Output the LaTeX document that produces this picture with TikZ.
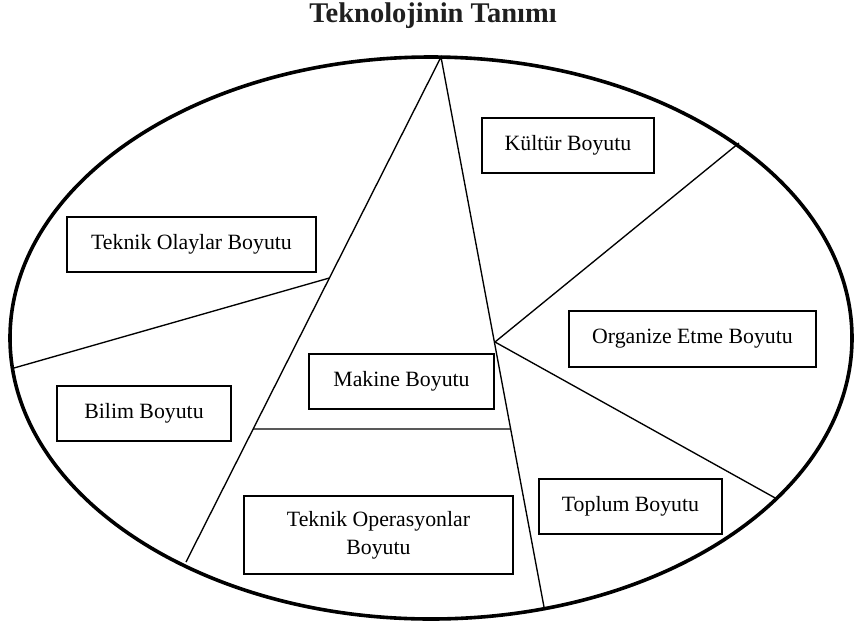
\documentclass[tikz,border=0pt]{standalone}
\usepackage{fontspec}
\setmainfont{Liberation Serif}
\usetikzlibrary{calc}

\tikzset{
  outline/.style={line width=3.6pt},
  divider/.style={line width=1.35pt},
  dimbox/.style={draw, line width=1.3pt, rectangle, inner sep=0pt,
    font=\fontsize{21.8}{28}\selectfont, align=center},
  heading/.style={font=\fontsize{28.5}{32}\selectfont\bfseries, text=black!88}
}

\begin{document}
\begin{tikzpicture}[x=1pt, y=-1pt]
  \useasboundingbox (0,0) rectangle (855,625);

  % title
  \node[heading] (title) at (433,16) {Teknolojinin Tanımı};

  % outer ellipse
  \draw[outline] (431,338) ellipse [x radius=421pt, y radius=281pt];

  % points where the dividing lines meet
  \coordinate (apex) at (441,57);
  \coordinate (footL) at (186,562);
  \coordinate (footR) at (544,607);
  \coordinate (hub) at (495,342);
  \coordinate (west) at (14,368);
  \coordinate (ne) at (739,143);
  \coordinate (se) at (777,499);
  \coordinate (junc) at ($(apex)!0.4376!(footL)$);
  \coordinate (barL) at ($(apex)!0.7366!(footL)$);
  \coordinate (barR) at ($(apex)!0.6764!(footR)$);

  % dividing lines
  \draw[divider] (footL) -- (apex) -- (footR);
  \draw[divider] (junc) -- (west);
  \draw[divider] (ne) -- (hub) -- (se);
  \draw[divider] (barL) -- (barR);

  % dimension boxes
  \node[dimbox, minimum width=172pt, minimum height=55pt] (kultur) at (568,145.5) {Kültür Boyutu};
  \node[dimbox, minimum width=249pt, minimum height=55pt] (olaylar) at (191.5,244.5) {Teknik Olaylar Boyutu};
  \node[dimbox, minimum width=247pt, minimum height=56pt] (organize) at (692.5,339) {Organize Etme Boyutu};
  \node[dimbox, minimum width=185pt, minimum height=55pt] (makine) at (401.5,381.5) {Makine Boyutu};
  \node[dimbox, minimum width=174pt, minimum height=55pt] (bilim) at (144,413.5) {Bilim Boyutu};
  \node[dimbox, minimum width=183pt, minimum height=55pt] (toplum) at (630.5,506.5) {Toplum Boyutu};
  \node[dimbox, minimum width=269pt, minimum height=78pt] (operasyon) at (378.5,535) {Teknik Operasyonlar\\Boyutu};
\end{tikzpicture}
\end{document}
